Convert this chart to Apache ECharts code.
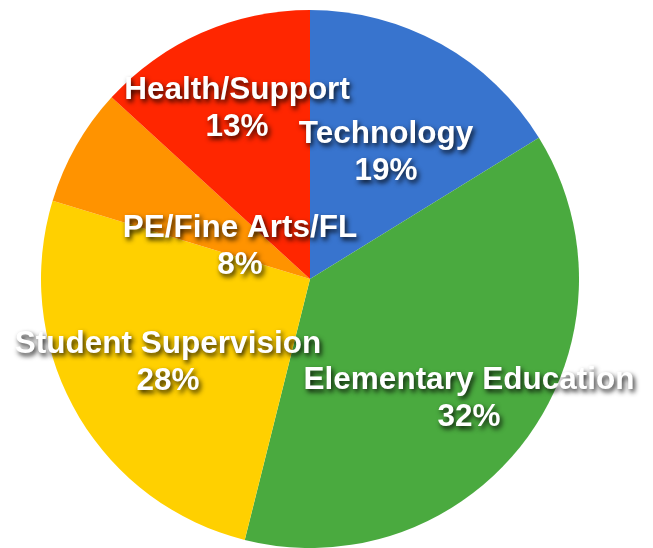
<!DOCTYPE html>
<html>
<head>
<meta charset="utf-8">
<script src="https://cdn.jsdelivr.net/npm/echarts@6/dist/echarts.min.js"></script>
<style>
html,body{margin:0;padding:0;background:#fff;}
#chart{width:653px;height:548px;}
</style>
</head>
<body>
<div id="chart"></div>
<script>
var categories = ['Technology', 'Elementary Education', 'Student Supervision', 'PE/Fine Arts/FL', 'Health/Support'];
var sliceValues = [16.2, 37.7, 25.8, 7.1, 13.2];
var labelPercents = ['19%', '32%', '28%', '8%', '13%'];

// Styles / layout
var colors = ['#3874CE', '#4AAA3F', '#FFD000', '#FF9300', '#FF2600'];
var CENTER = [310, 279];
var RADIUS = 269;
// label block centre offsets from the pie centre (px)
var labelOffsets = [[76, -126], [159, 120], [-142, 84], [-70, -32], [-73, -170]];

var chart = echarts.init(document.getElementById('chart'), null, {renderer: 'canvas'});
var data = categories.map(function (c, i) {
  return {name: c, value: sliceValues[i], itemStyle: {color: colors[i]}};
});
chart.setOption({
  animation: false,
  backgroundColor: '#ffffff',
  series: [{
    type: 'pie',
    center: CENTER,
    radius: [0, RADIUS],
    startAngle: 90,
    clockwise: true,
    avoidLabelOverlap: false,
    emphasis: {disabled: true},
    itemStyle: {borderWidth: 0},
    label: {
      show: true,
      position: 'inside',
      formatter: function (p) { return p.name + '\n' + labelPercents[p.dataIndex]; },
      color: '#ffffff',
      fontFamily: 'Liberation Sans, Arial, sans-serif',
      fontWeight: 'bold',
      fontSize: 31.5,
      lineHeight: 37,
      align: 'center',
      textShadowColor: 'rgba(0,0,0,0.85)',
      textShadowBlur: 5,
      textShadowOffsetX: 2,
      textShadowOffsetY: 3
    },
    labelLine: {show: false},
    labelLayout: function (params) {
      var o = labelOffsets[params.dataIndex];
      return {x: CENTER[0] + o[0], y: CENTER[1] + o[1], align: 'center', verticalAlign: 'middle'};
    },
    data: data
  }]
});
</script>
</body>
</html>
